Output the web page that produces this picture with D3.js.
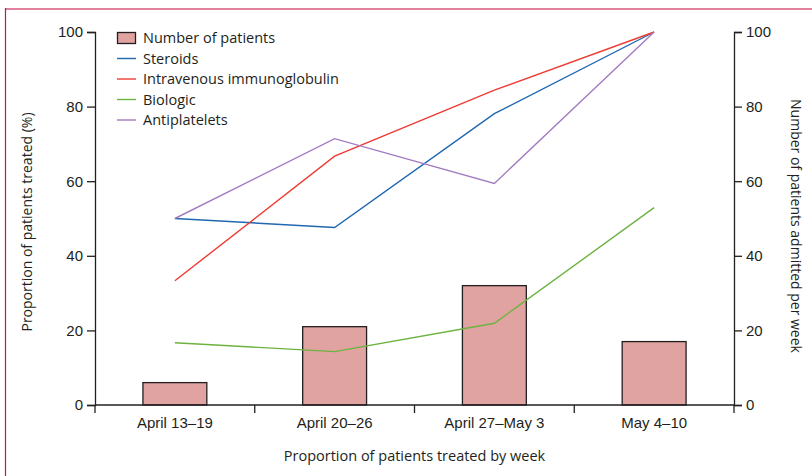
<!DOCTYPE html>
<html>
<head>
<meta charset="utf-8">
<script src="https://cdn.jsdelivr.net/npm/d3@7"></script>
<style>
  body { margin: 0; background: #fff; }
  svg { display: block; font-family: "Open Sans", "Noto Sans", sans-serif; }
  .tick text { font-size: 15px; fill: #231f20; }
  .domain, .tick line { stroke: #231f20; stroke-width: 1.3; }
</style>
</head>
<body>
<div id="container"></div>
<script>
// weeks and values
var weeks = ['April 13–19', 'April 20–26', 'April 27–May 3', 'May 4–10'];
var patients = [6, 21, 32, 17];
var steroids = [50, 47.6, 78.1, 100];
var ivig = [33.3, 66.7, 84.4, 100];
var biologic = [16.7, 14.3, 21.9, 52.9];
var antiplatelets = [50, 71.4, 59.4, 100];
var ticks = [0, 20, 40, 60, 80, 100];

var series = [
  { name: 'Steroids', values: steroids, color: '#1f67b1' },
  { name: 'Intravenous immunoglobulin', values: ivig, color: '#ee3b33' },
  { name: 'Biologic', values: biologic, color: '#6cb33f' },
  { name: 'Antiplatelets', values: antiplatelets, color: '#a27cc1' }
];

var W = 812, H = 476;
var margin = { left: 95, right: 78, top: 32, bottom: 71 };

var svg = d3.select('#container').append('svg')
  .attr('width', W).attr('height', H);

// frame
svg.append('line').attr('x1', 5).attr('x2', W).attr('y1', 9).attr('y2', 9)
  .style('stroke', '#e3819f').style('stroke-width', 2);
svg.append('line').attr('x1', 5.5).attr('x2', 5.5).attr('y1', 8).attr('y2', H)
  .style('stroke', '#b0204f').style('stroke-width', 1.2);

var x = d3.scaleBand().domain(weeks)
  .range([margin.left, W - margin.right]);
var yL = d3.scaleLinear().domain([0, 100]).range([H - margin.bottom, margin.top]);
var yR = d3.scaleLinear().domain([0, 100]).range([H - margin.bottom, margin.top]);

var barW = x.bandwidth() * 0.4;

// bars
svg.append('g').selectAll('rect')
  .data(patients)
  .enter()
  .append('rect')
    .attr('x', function(d, i) { return x(weeks[i]) + x.bandwidth() / 2 - barW / 2; })
    .attr('y', function(d) { return yR(d); })
    .attr('width', barW)
    .attr('height', function(d) { return yR(0) - yR(d); })
    .style('fill', '#e0a3a1')
    .style('stroke', '#231f20')
    .style('stroke-width', 1.3);

// lines
var line = d3.line()
  .x(function(d, i) { return x(weeks[i]) + x.bandwidth() / 2; })
  .y(function(d) { return yL(d); });

svg.append('g').selectAll('path')
  .data(series)
  .enter()
  .append('path')
    .attr('d', function(s) { return line(s.values); })
    .style('fill', 'none')
    .style('stroke', function(s) { return s.color; })
    .style('stroke-width', 1.4);

// axes
var xAxis = d3.axisBottom(x).tickSize(0).tickPadding(12);
var gx = svg.append('g')
  .attr('transform', 'translate(0,' + yL(0) + ')')
  .call(xAxis);
gx.select('.domain').attr('d', 'M' + margin.left + ',0H' + (W - margin.right));
// band edge ticks
gx.selectAll('.edge')
  .data(weeks.concat(['end']))
  .enter()
  .append('line')
    .attr('class', 'edge')
    .attr('x1', function(d, i) { return i < weeks.length ? x(d) : x.range()[1]; })
    .attr('x2', function(d, i) { return i < weeks.length ? x(d) : x.range()[1]; })
    .attr('y1', 0).attr('y2', 8)
    .style('stroke', '#231f20').style('stroke-width', 1.3);

svg.append('g')
  .attr('transform', 'translate(' + margin.left + ',0)')
  .call(d3.axisLeft(yL).tickValues(ticks).tickSize(8).tickSizeOuter(8).tickPadding(4));

svg.append('g')
  .attr('transform', 'translate(' + (W - margin.right) + ',0)')
  .call(d3.axisRight(yR).tickValues(ticks).tickSize(8).tickSizeOuter(8).tickPadding(4));

// axis titles
svg.append('text')
  .attr('transform', 'translate(32,222) rotate(-90)')
  .attr('text-anchor', 'middle')
  .style('font-size', '14px').style('fill', '#231f20')
  .text('Proportion of patients treated (%)');

svg.append('text')
  .attr('transform', 'translate(791,226) rotate(90)')
  .attr('text-anchor', 'middle')
  .style('font-size', '14px').style('fill', '#231f20')
  .text('Number of patients admitted per week');

svg.append('text')
  .attr('x', (margin.left + W - margin.right) / 2)
  .attr('y', 461)
  .attr('text-anchor', 'middle')
  .style('font-size', '14.5px').style('fill', '#231f20')
  .text('Proportion of patients treated by week');

// legend
var legend = svg.append('g').attr('transform', 'translate(117,38)');
var items = [{ name: 'Number of patients', bar: true }].concat(series);
var rows = legend.selectAll('g')
  .data(items)
  .enter()
  .append('g')
    .attr('transform', function(d, i) { return 'translate(0,' + (i * 20.5) + ')'; });

rows.filter(function(d) { return d.bar; })
  .append('rect')
    .attr('x', 0.5).attr('y', -5.5).attr('width', 18).attr('height', 11)
    .style('fill', '#e0a3a1').style('stroke', '#231f20').style('stroke-width', 1.3);

rows.filter(function(d) { return !d.bar; })
  .append('line')
    .attr('x1', 0).attr('x2', 19).attr('y1', 0).attr('y2', 0)
    .style('stroke', function(d) { return d.color; }).style('stroke-width', 1.4);

rows.append('text')
  .attr('x', 26).attr('y', 5)
  .style('font-size', '14.5px').style('fill', '#231f20')
  .text(function(d) { return d.name; });
</script>
</body>
</html>
